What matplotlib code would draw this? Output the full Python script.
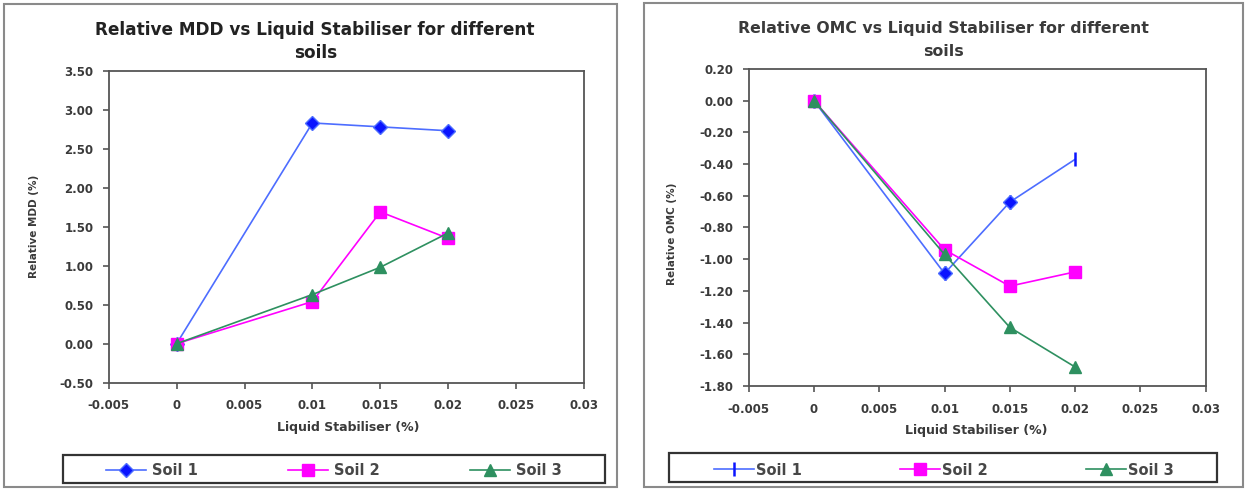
import matplotlib
matplotlib.use("Agg")
import matplotlib.pyplot as plt
from matplotlib.patches import Rectangle
from matplotlib.ticker import FormatStrFormatter, FixedLocator, FixedFormatter

plt.rcParams['font.family'] = ['DejaVu Sans']
plt.rcParams['axes.unicode_minus'] = False

# liquid stabiliser dosage (%)
stabiliser = [0, 0.01, 0.015, 0.02]
soil_names = ['Soil 1', 'Soil 2', 'Soil 3']

# relative maximum dry density (%)
mdd_soil1 = [0.00, 2.83, 2.78, 2.73]
mdd_soil2 = [0.00, 0.54, 1.69, 1.35]
mdd_soil3 = [0.00, 0.63, 0.98, 1.42]

# relative optimum moisture content (%)
omc_soil1 = [0.00, -1.09, -0.64, -0.37]
omc_soil2 = [0.00, -0.94, -1.17, -1.08]
omc_soil3 = [0.00, -0.97, -1.43, -1.68]

x_ticks = [-0.005, 0, 0.005, 0.01, 0.015, 0.02, 0.025, 0.03]
x_tick_labels = ['-0.005', '0', '0.005', '0.01', '0.015', '0.02', '0.025', '0.03']
mdd_ticks = [-0.5, 0.0, 0.5, 1.0, 1.5, 2.0, 2.5, 3.0, 3.5]
omc_ticks = [0.2, 0.0, -0.2, -0.4, -0.6, -0.8, -1.0, -1.2, -1.4, -1.6, -1.8]

BLUE_LINE = '#4d6dff'
BLUE = '#0a14ff'
MAGENTA = '#ff00ff'
GREEN = '#2e9060'
TXT = '#3a3a3a'
W, H = 1246, 490

fig = plt.figure(figsize=(W / 100, H / 100), dpi=100)


def px_rect(x0, y0, x1, y1, **kw):
    fig.patches.append(Rectangle((x0 / W, 1 - y1 / H), (x1 - x0) / W, (y1 - y0) / H,
                                 transform=fig.transFigure, fill=False, **kw))


# panel frames
px_rect(4, 4, 617, 487, edgecolor='#8a8a8a', linewidth=1.5)
px_rect(644, 3, 1243, 487, edgecolor='#8a8a8a', linewidth=1.5)


def style_axes(ax, yticks, ylim, xlabel_at, ylabel, ylabel_at):
    ax.set_xlim(-0.005, 0.03)
    ax.set_ylim(*ylim)
    ax.xaxis.set_major_locator(FixedLocator(x_ticks))
    ax.xaxis.set_major_formatter(FixedFormatter(x_tick_labels))
    ax.yaxis.set_major_locator(FixedLocator(yticks))
    ax.yaxis.set_major_formatter(FormatStrFormatter('%.2f'))
    for s in ax.spines.values():
        s.set_color('#555555')
        s.set_linewidth(1.3)
    ax.tick_params(direction='out', length=4, width=1.2, color='#555555',
                   labelsize=8.5, labelcolor=TXT, top=False, right=False)
    ax.tick_params(axis='x', pad=8)
    ax.tick_params(axis='y', pad=7)
    for lbl in ax.get_xticklabels() + ax.get_yticklabels():
        lbl.set_fontweight('bold')
    ax.set_xlabel('Liquid Stabiliser (%)', fontsize=9, fontweight='bold',
                  color=TXT, va='center')
    ax.xaxis.set_label_coords(*xlabel_at)
    ax.set_ylabel(ylabel, fontsize=7.5, fontweight='bold', color=TXT, va='center')
    ax.yaxis.set_label_coords(*ylabel_at)


def add_legend(ax, handles, frame, x0, x1, yc, textpad):
    px_rect(*frame, edgecolor='#333333', linewidth=1.6)
    h = 20
    leg = ax.legend(handles, soil_names, loc='center', ncol=3, mode='expand',
                    bbox_to_anchor=(x0 / W, 1 - (yc + h / 2) / H, (x1 - x0) / W, h / H),
                    bbox_transform=fig.transFigure, borderaxespad=0, borderpad=0,
                    frameon=False, handlelength=2.75, handletextpad=textpad,
                    prop={'size': 10.5, 'weight': 'bold'})
    for t in leg.get_texts():
        t.set_color('#474747')
    return leg


# ---- Relative MDD ----
ax1 = fig.add_axes([108.7 / W, 1 - 382.7 / H, (584 - 108.7) / W, 312 / H])
l1, = ax1.plot(stabiliser, mdd_soil1, color=BLUE_LINE, lw=1.2, marker='D',
               ms=7, mfc=BLUE, mec=BLUE_LINE, mew=1.0)
l2, = ax1.plot(stabiliser, mdd_soil2, color=MAGENTA, lw=1.2, marker='s',
               ms=8, mfc=MAGENTA, mec=MAGENTA)
l3, = ax1.plot(stabiliser, mdd_soil3, color=GREEN, lw=1.2, marker='^',
               ms=8.5, mfc=GREEN, mec=GREEN)
style_axes(ax1, mdd_ticks, (-0.5, 3.5), (0.503, -0.142),
           'Relative MDD (%)', (-0.157, 0.5))
fig.text(315 / W, 1 - 30 / H, 'Relative MDD vs Liquid Stabiliser for different',
         ha='center', va='center', fontsize=12.2, fontweight='bold', color='#222222')
fig.text(316 / W, 1 - 53 / H, 'soils',
         ha='center', va='center', fontsize=12.2, fontweight='bold', color='#222222')
add_legend(ax1, [l1, l2, l3], (63, 455, 605, 483), 106, 562, 470.5, 0.4)

# ---- Relative OMC ----
ax2 = fig.add_axes([748.7 / W, 1 - 386 / H, (1205.6 - 748.7) / W, 317 / H])
r1, = ax2.plot(stabiliser, omc_soil1, color=BLUE_LINE, lw=1.2, marker='|',
               ms=10, mec=BLUE, mew=1.8)
# diamond markers drawn on the intermediate points of soil 1
ax2.plot(stabiliser[1:3], omc_soil1[1:3], linestyle='none', marker='D',
         ms=7, mfc=BLUE, mec=BLUE_LINE, mew=1.0)
r2, = ax2.plot(stabiliser, omc_soil2, color=MAGENTA, lw=1.2, marker='s',
               ms=8, mfc=MAGENTA, mec=MAGENTA)
r3, = ax2.plot(stabiliser, omc_soil3, color=GREEN, lw=1.2, marker='^',
               ms=8.5, mfc=GREEN, mec=GREEN)
style_axes(ax2, omc_ticks, (-1.8, 0.2), (0.497, -0.139),
           'Relative OMC (%)', (-0.168, 0.48))
fig.text(943 / W, 1 - 28 / H, 'Relative OMC vs Liquid Stabiliser for different',
         ha='center', va='center', fontsize=11.3, fontweight='bold', color='#3a3a3a')
fig.text(944 / W, 1 - 51 / H, 'soils',
         ha='center', va='center', fontsize=11.3, fontweight='bold', color='#3a3a3a')
add_legend(ax2, [r1, r2, r3], (669, 453, 1217, 482), 713.6, 1174, 470, 0.15)

fig.savefig('out.png', dpi=100)
